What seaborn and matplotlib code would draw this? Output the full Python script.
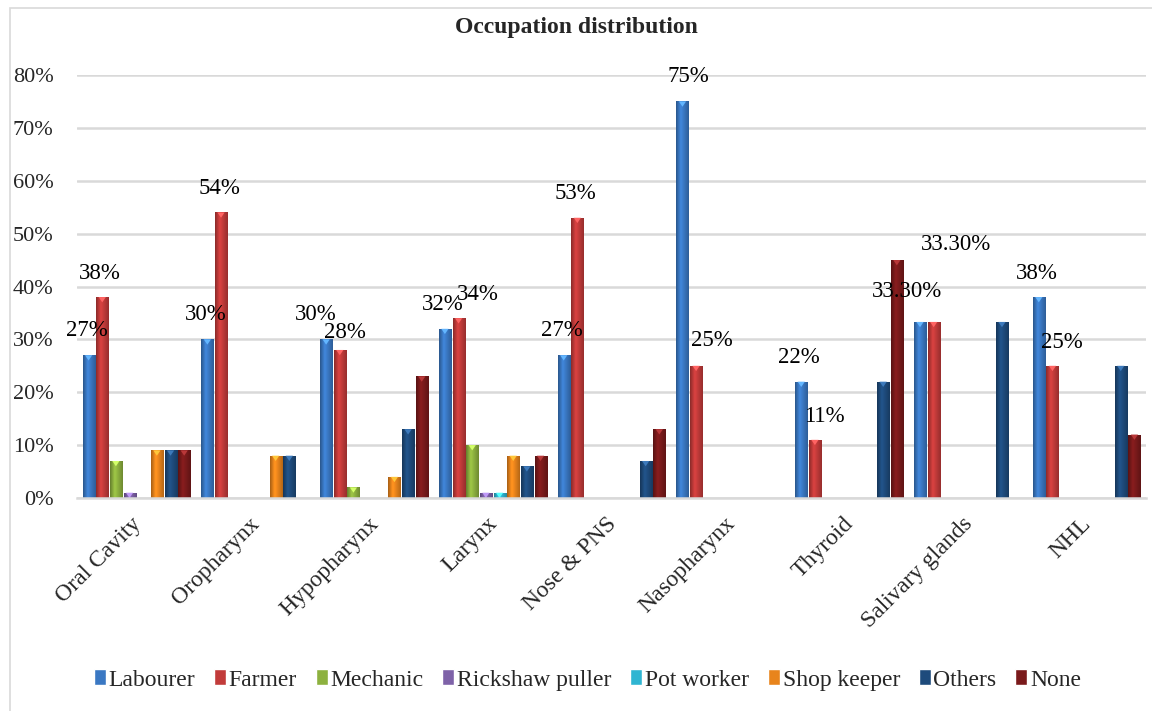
import numpy as np
import pandas as pd
import matplotlib
matplotlib.use("Agg")
import matplotlib.pyplot as plt
import matplotlib.colors as mcolors
import matplotlib.transforms as mtransforms
import seaborn as sns
from matplotlib.patches import Rectangle
from matplotlib.ticker import FuncFormatter

sites = ["Oral Cavity", "Oropharynx", "Hypopharynx", "Larynx", "Nose & PNS",
         "Nasopharynx", "Thyroid", "Salivary glands", "NHL"]
occupations = ["Labourer", "Farmer", "Mechanic", "Rickshaw puller",
               "Pot worker", "Shop keeper", "Others", "None"]

# percent of patients per site, one list per occupation
labourer = [27, 30, 30, 32, 27, 75, 22, 33.3, 38]
farmer = [38, 54, 28, 34, 53, 25, 11, 33.3, 25]
mechanic = [7, 0, 2, 10, 0, 0, 0, 0, 0]
rickshaw_puller = [1, 0, 0, 1, 0, 0, 0, 0, 0]
pot_worker = [0, 0, 0, 1, 0, 0, 0, 0, 0]
shop_keeper = [9, 8, 4, 8, 0, 0, 0, 0, 0]
others = [9, 8, 13, 6, 7, 0, 22, 33.3, 25]
none = [9, 0, 23, 8, 13, 0, 45, 0, 12]

series = [labourer, farmer, mechanic, rickshaw_puller, pot_worker,
          shop_keeper, others, none]
colors = ["#3A78C3", "#C23B3A", "#8DB13F", "#7E62A8", "#2FB5D2",
          "#E8841C", "#1E4B7C", "#7A1A1B"]

# label nudges (pixels) for the value labels on Labourer / Farmer bars
label_nudge = {
    0: [(-2, 25), (-2, 25), (-10, 25), (-2, 24), (-2, 25), (6, 25), (-2, 24), (-13, 30), (-2, 24)],
    1: [(-2, 24), (-2, 24), (5, 17), (19, 24), (-2, 24), (16, 25), (9, 23), (22, 77), (9, 23)],
}

rows = []
for occ, vals in zip(occupations, series):
    for site, v in zip(sites, vals):
        if v > 0:
            rows.append({"site": site, "occupation": occ, "value": v})
df = pd.DataFrame(rows)

serif = ["Liberation Serif", "DejaVu Serif"]
sns.set_theme(style="white")
plt.rcParams["font.family"] = serif

fig = plt.figure(figsize=(11.52, 7.11), dpi=100)
ax = fig.add_axes([77 / 1152, 213 / 711, 1069 / 1152, 423 / 711])

group_width = 0.92
sns.barplot(data=df, x="site", y="value", hue="occupation", order=sites,
            hue_order=occupations, palette=colors, saturation=1,
            width=group_width, gap=0.12, ax=ax, legend=True, err_kws={"linewidth": 0})

handles, labels = ax.get_legend_handles_labels()
ax.legend_.remove()

# bevelled look: horizontal shading across each bar plus a small tip marker
shade = np.concatenate([np.linspace(0.72, 1.12, 12), np.linspace(1.12, 0.78, 20)])
for patch in list(ax.patches):
    h = patch.get_height()
    if not np.isfinite(h) or h <= 0:
        continue
    x0, w = patch.get_x(), patch.get_width()
    fc = np.array(mcolors.to_rgb(patch.get_facecolor()))
    img = np.clip(fc[None, None, :] * shade[None, :, None], 0, 1)
    im = ax.imshow(img, extent=[x0, x0 + w, 0, h], aspect="auto",
                   interpolation="bilinear", zorder=patch.get_zorder() + 0.1)
    im.set_clip_path(patch)
    patch.set_edgecolor(tuple(fc * 0.6))
    patch.set_linewidth(0.6)
    tip_h = min(1.0, h)
    light = tuple(np.clip(fc * 1.35 + 0.08, 0, 1))
    ax.fill([x0 + w * 0.2, x0 + w * 0.8, x0 + w * 0.5],
            [h, h, h - tip_h], color=light, lw=0,
            zorder=patch.get_zorder() + 0.2)

ax.set_ylim(0, 80)
ax.set_xlim(-0.5, len(sites) - 0.5)
ax.set_yticks(np.arange(0, 81, 10))
ax.yaxis.set_major_formatter(FuncFormatter(lambda v, p: f"{v:.0f}%"))
ax.grid(axis="y", color="#D9D9D9", linewidth=1.8)
ax.set_axisbelow(True)
for s in ["top", "right", "left"]:
    ax.spines[s].set_visible(False)
ax.spines["bottom"].set_color("#D9D9D9")
ax.spines["bottom"].set_linewidth(1.8)
ax.tick_params(axis="y", length=0, labelsize=16, pad=17)
ax.tick_params(axis="x", length=0, labelsize=17, pad=11)
ax.set_xlabel("")
ax.set_ylabel("")
ax.set_xticks(range(len(sites)))
ax.set_xticklabels(sites, rotation=45, ha="right", rotation_mode="anchor")
shift = mtransforms.ScaledTranslation(-6 / 100, 0, fig.dpi_scale_trans)
for lab in ax.get_xticklabels():
    lab.set_transform(lab.get_transform() + shift)

# value labels above Labourer and Farmer bars
slot = group_width / len(occupations)
for j, vals in enumerate([labourer, farmer]):
    for i, v in enumerate(vals):
        x = i - group_width / 2 + (j + 0.5) * slot
        txt = f"{v:.0f}%" if float(v).is_integer() else f"{v:.2f}%"
        dx, dy = label_nudge[j][i]
        ax.annotate(txt, (x, v), xytext=(dx, dy), textcoords="offset pixels",
                    ha="center", va="center", fontsize=16.5, color="black",
                    zorder=10)

fig.text(0.5, 1 - 28 / 711, "Occupation distribution", ha="center", va="center",
         fontsize=17, fontweight="bold")

fig.legend(handles, labels, loc="center", bbox_to_anchor=(0.51, 31 / 711), ncol=8,
           frameon=False, fontsize=17, handlelength=0.5, handleheight=0.65,
           handletextpad=0.12, columnspacing=0.8)

# chart frame
fig.patches.append(Rectangle((10 / 1152, -0.01), 1.2, 1 - 8 / 711 + 0.01,
                             transform=fig.transFigure, fill=False,
                             edgecolor="#D9D9D9", linewidth=1.2))

fig.savefig("out.png", dpi=100)
